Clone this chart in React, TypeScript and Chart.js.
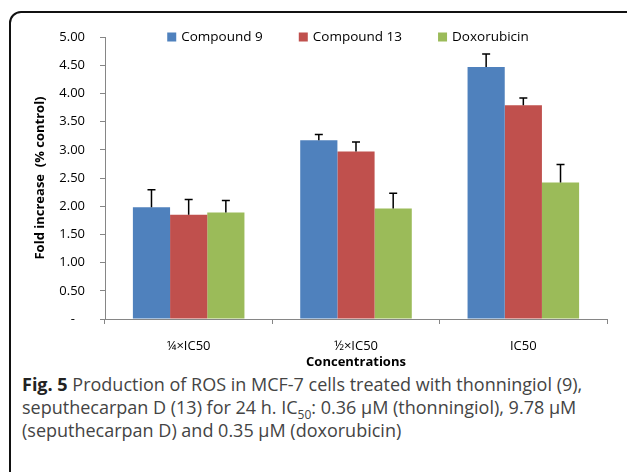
import React, { useEffect, useRef } from "react";
import { Chart, registerables } from "chart.js";

Chart.register(...registerables);

// ---- Data ----
const categories = ["¼×IC50", "½×IC50", "IC50"];
const seriesNames = ["Compound 9", "Compound 13", "Doxorubicin"];
const compound9 = [1.98, 3.17, 4.47];
const compound13 = [1.85, 2.97, 3.79];
const doxorubicin = [1.89, 1.96, 2.42];
const compound9Err = [0.31, 0.10, 0.23];
const compound13Err = [0.27, 0.17, 0.13];
const doxorubicinErr = [0.21, 0.27, 0.32];
const seriesColors = ["#4F81BD", "#C0504D", "#9BBB59"];
const yTickValues = [0, 0.5, 1, 1.5, 2, 2.5, 3, 3.5, 4, 4.5, 5];

const FONT = "'Open Sans', 'Noto Sans', sans-serif";

const errorBarPlugin = {
  id: "errorBars",
  afterDatasetsDraw(chart: any) {
    const ctx = chart.ctx;
    const yScale = chart.scales.y;
    chart.data.datasets.forEach((ds: any, i: number) => {
      const meta = chart.getDatasetMeta(i);
      meta.data.forEach((bar: any, j: number) => {
        const v = ds.data[j];
        const e = ds.errors[j];
        const top = yScale.getPixelForValue(v + e);
        ctx.save();
        ctx.strokeStyle = "#000";
        ctx.lineWidth = 1.5;
        ctx.beginPath();
        ctx.moveTo(bar.x, bar.y);
        ctx.lineTo(bar.x, top);
        ctx.moveTo(bar.x - 4, top);
        ctx.lineTo(bar.x + 4, top);
        ctx.stroke();
        ctx.restore();
      });
    });
  },
};

const legendPlugin = {
  id: "insideLegend",
  afterDraw(chart: any) {
    const ctx = chart.ctx;
    const area = chart.chartArea;
    ctx.save();
    ctx.font = `13.5px ${FONT}`;
    ctx.textBaseline = "middle";
    const box = 9;
    const gap = 5;
    const spacing = 36;
    const widths = chart.data.datasets.map((ds: any) => box + gap + ctx.measureText(ds.label).width);
    const total = widths.reduce((a: number, b: number) => a + b, 0) + spacing * (widths.length - 1);
    let x = (area.left + area.right) / 2 - 8 - total / 2;
    const y = area.top;
    chart.data.datasets.forEach((ds: any, i: number) => {
      ctx.fillStyle = ds.backgroundColor;
      ctx.fillRect(x, y - box / 2, box, box);
      ctx.fillStyle = "#000";
      ctx.fillText(ds.label, x + box + gap, y);
      x += widths[i] + spacing;
    });
    ctx.restore();
  },
};

function BarChart() {
  const ref = useRef<HTMLCanvasElement | null>(null);
  useEffect(() => {
    if (!ref.current) return;
    const values = [compound9, compound13, doxorubicin];
    const errs = [compound9Err, compound13Err, doxorubicinErr];
    const chart = new Chart(ref.current, {
      type: "bar",
      data: {
        labels: categories,
        datasets: seriesNames.map((name, i) => ({
          label: name,
          data: values[i],
          errors: errs[i],
          backgroundColor: seriesColors[i],
          borderWidth: 0,
          categoryPercentage: 3 / 4.5,
          barPercentage: 1.0,
        })) as any,
      },
      options: {
        responsive: false,
        animation: false,
        devicePixelRatio: 1,
        layout: { padding: { top: 37, right: 20, left: 0, bottom: 0 } },
        plugins: {
          legend: { display: false },
          tooltip: { enabled: false },
        },
        scales: {
          x: {
            grid: {
              display: true,
              drawOnChartArea: false,
              drawTicks: true,
              tickLength: 5,
              color: "#868686",
              offset: true,
            },
            border: { display: true, color: "#868686", width: 1 },
            ticks: {
              color: "#000",
              font: { family: FONT, size: 13 },
              padding: 14,
              maxRotation: 0,
            },
            title: {
              display: true,
              text: "Concentrations",
              color: "#000",
              font: { family: FONT, size: 13, weight: "bold" },
              padding: { top: 0, bottom: 2 },
            },
            afterFit: (s: any) => {
              s.height = 53;
            },
          },
          y: {
            min: 0,
            max: 5,
            afterBuildTicks: (s: any) => {
              s.ticks = yTickValues.map((v) => ({ value: v }));
            },
            ticks: {
              color: "#000",
              font: { family: FONT, size: 13 },
              padding: 15,
              callback: (v: any) => (Number(v) === 0 ? "-   " : Number(v).toFixed(2)),
            },
            grid: {
              display: true,
              drawOnChartArea: false,
              drawTicks: true,
              tickLength: 5,
              color: "#868686",
            },
            border: { display: true, color: "#868686", width: 1 },
            title: {
              display: true,
              text: "Fold increase  (% control)",
              color: "#000",
              font: { family: FONT, size: 13, weight: "bold" },
              padding: { top: 32, bottom: 0 },
            },
            afterFit: (s: any) => {
              s.width = 105;
            },
          },
        },
      } as any,
      plugins: [errorBarPlugin, legendPlugin],
    });
    return () => chart.destroy();
  }, []);
  return <canvas ref={ref} width={627} height={372} style={{ position: "absolute", left: 0, top: 0 }} />;
}

export default function App() {
  return (
    <div
      style={{
        position: "absolute",
        left: 0,
        top: 0,
        width: 627,
        height: 472,
        overflow: "hidden",
        background: "#fff",
      }}
    >
      <div
        style={{
          position: "absolute",
          left: 9,
          top: 11,
          width: 640,
          height: 520,
          border: "2px solid #111",
          borderRadius: 12,
          boxSizing: "border-box",
        }}
      />
      <BarChart />
      <div
        style={{
          position: "absolute",
          left: 22,
          top: 373,
          fontFamily: FONT,
          fontSize: 18,
          lineHeight: "23px",
          color: "#444",
          whiteSpace: "nowrap",
        }}
      >
        <b style={{ color: "#222" }}>Fig. 5</b> Production of ROS in MCF-7 cells treated with thonningiol (9),
        <br />
        seputhecarpan D (13) for 24 h. IC<sub style={{ fontSize: 12, lineHeight: 0 }}>50</sub>: 0.36 μM (thonningiol), 9.78 μM
        <br />
        (seputhecarpan D) and 0.35 μM (doxorubicin)
      </div>
    </div>
  );
}
